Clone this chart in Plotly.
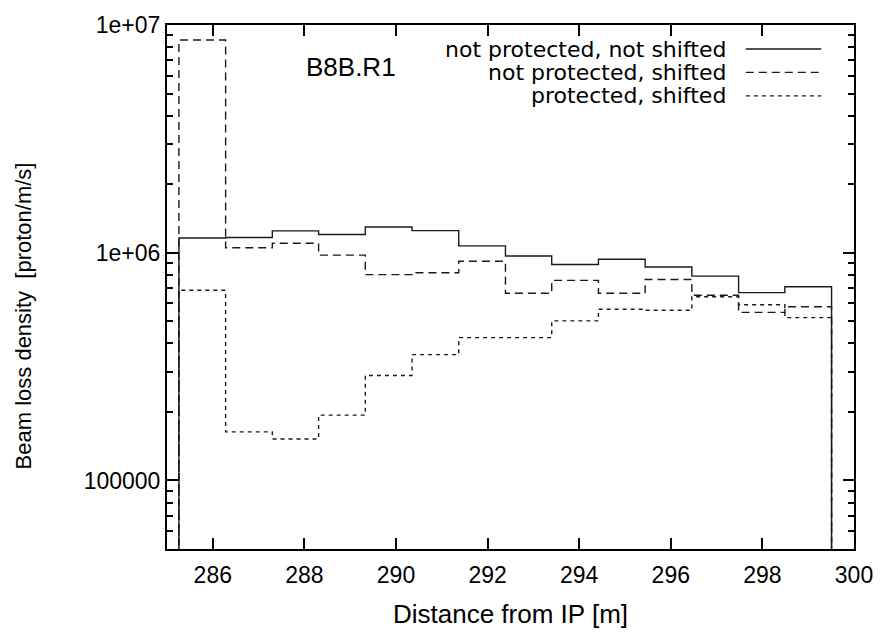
import plotly.graph_objects as go

# Bin edges along the beam line [m]
bin_edges = [285.26, 286.28, 287.30, 288.31, 289.33, 290.35, 291.37, 292.39,
             293.40, 294.42, 295.44, 296.46, 297.48, 298.49, 299.51]

# Beam loss density per bin [proton/m/s]
not_prot_not_shifted = [1.16e6, 1.167e6, 1.247e6, 1.202e6, 1.297e6, 1.251e6, 1.072e6,
                        0.967e6, 0.888e6, 0.936e6, 0.865e6, 0.789e6, 0.668e6, 0.709e6]
not_prot_shifted = [8.59e6, 1.051e6, 1.100e6, 0.976e6, 0.801e6, 0.817e6, 0.918e6,
                    0.664e6, 0.756e6, 0.664e6, 0.763e6, 0.651e6, 0.547e6, 0.579e6]
prot_shifted = [0.684e6, 0.1635e6, 0.152e6, 0.1935e6, 0.289e6, 0.357e6, 0.424e6,
                0.424e6, 0.502e6, 0.565e6, 0.559e6, 0.641e6, 0.591e6, 0.519e6]

series_names = ["not protected, not shifted", "not protected, shifted", "protected, shifted"]
series_values = [not_prot_not_shifted, not_prot_shifted, prot_shifted]
series_dash = ["solid", "8px,5px", "4px,4px"]

x_ticks = [286, 288, 290, 292, 294, 296, 298, 300]
y_ticks = [1e5, 1e6, 1e7]
y_tick_text = ["100000", "1e+06", "1e+07"]
y_minor = [m * 10 ** e for e in (4, 5, 6) for m in range(2, 10) if 5e4 <= m * 10 ** e <= 1e7]

BASELINE = 1e3  # histogram outline drops below the visible range at both ends
FONT = "Liberation Sans, Arial, Helvetica, sans-serif"
KEY_FONT = "DejaVu Sans, Liberation Sans, sans-serif"
INK = "#1a1a1a"
LABEL_SIZE = 26
KEY_SIZE = 22
TICK_SIZE = 23

fig = go.Figure()
for name, vals, dash in zip(series_names, series_values, series_dash):
    xs = [bin_edges[0]] + bin_edges[:-1] + [bin_edges[-1], bin_edges[-1]]
    ys = [BASELINE] + vals + [vals[-1], BASELINE]
    fig.add_trace(go.Scatter(x=xs, y=ys, mode="lines", name=name, line_shape="hv",
                             line=dict(color=INK, width=1.4, dash=dash),
                             showlegend=False))

# Key: right-aligned text with line samples to its right
key_rows_y = [0.9541, 0.9096, 0.8647]
for name, dash, ky in zip(series_names, series_dash, key_rows_y):
    fig.add_annotation(x=0.8165, y=ky, xref="paper", yref="paper", text=name,
                       showarrow=False, xanchor="right", yanchor="middle",
                       font=dict(family=KEY_FONT, size=KEY_SIZE, color="black"))
    fig.add_shape(type="line", xref="paper", yref="paper", x0=0.8425, x1=0.9523,
                  y0=ky, y1=ky, line=dict(color=INK, width=1.4, dash=dash))

fig.add_annotation(x=0.1994, y=0.9195, xref="paper", yref="paper", text="B8B.R1",
                   showarrow=False, xanchor="left", yanchor="middle",
                   font=dict(family=FONT, size=LABEL_SIZE, color="black"))

fig.add_annotation(x=-0.2095, y=0.444, xref="paper", yref="paper",
                   text="Beam loss density &nbsp;[proton/m/s]", textangle=-90,
                   showarrow=False, xanchor="center", yanchor="middle",
                   font=dict(family=FONT, size=22, color="black"))

fig.update_layout(
    width=885, height=637,
    margin=dict(l=167, r=26, t=15, b=88),
    paper_bgcolor="white", plot_bgcolor="white",
    font=dict(family=FONT, size=TICK_SIZE, color="black"),
    xaxis=dict(range=[285, 300], tickvals=x_ticks, ticks="inside", ticklen=11,
               tickwidth=1.5, tickcolor="black", showline=True, linewidth=2,
               linecolor="black", mirror="allticks", showgrid=False, zeroline=False,
               ticklabelstandoff=4,
               title=dict(text="Distance from IP [m]", standoff=18,
                          font=dict(size=LABEL_SIZE)),
               tickfont=dict(size=TICK_SIZE)),
    yaxis=dict(type="log", range=[4.69897, 7], tickvals=y_ticks, ticktext=y_tick_text,
               ticks="inside", ticklen=11, tickwidth=1.5, tickcolor="black",
               showline=True, linewidth=2, linecolor="black", mirror="allticks",
               showgrid=False, zeroline=False, tickfont=dict(size=TICK_SIZE),
               minor=dict(tickmode="array", tickvals=y_minor, ticks="inside",
                          ticklen=6, tickwidth=1.5, tickcolor="black", showgrid=False)),
)

fig.write_html("out.html")
